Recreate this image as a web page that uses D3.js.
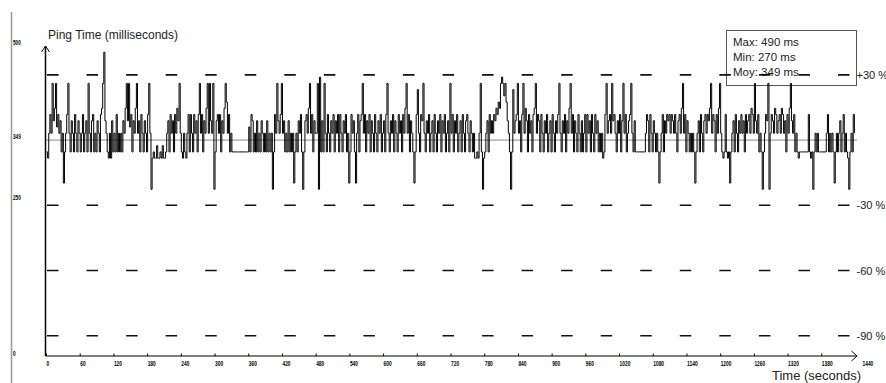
<!DOCTYPE html>
<html>
<head>
<meta charset="utf-8">
<script src="https://cdn.jsdelivr.net/npm/d3@7"></script>
<style>
  body { margin: 0; background: #fff; }
  svg { display: block; font-family: "Liberation Sans", Arial, sans-serif; }
</style>
</head>
<body>
<svg id="chart"></svg>
<script>
// ping samples, one value every 2 seconds, split in 4-minute pieces
const stepSeconds = 2;

const seg0 = [
  330,320,360,390,360,440,380,400,440,370, 390,360,380,330,360,280,330,360,390,440,
  360,330,380,360,330,390,360,330,380,360, 330,360,390,330,360,380,330,440,360,330,
  380,390,330,360,330,380,360,330,390,400, 440,490,380,360,330,320,360,320,380,330,
  360,330,390,330,360,330,360,330,380,360, 400,440,380,440,370,390,330,380,360,400,
  440,360,380,330,390,360,330,380,360,330, 390,440,360,270,320,330,320,320,340,320,
  320,330,320,340,320,320,330,360,380,330, 390,360,380,330,390,360,400,380,440,360
];
const seg1 = [
  330,320,360,330,320,360,390,330,390,360, 330,390,360,380,330,390,440,360,390,330,
  380,360,400,440,360,440,380,360,440,270, 330,380,390,360,390,330,380,360,400,440,
  410,360,390,330,360,330,330,330,330,330, 330,330,330,330,330,330,330,330,330,330,
  370,330,390,380,330,360,330,380,330,360, 330,380,360,330,360,330,380,330,360,330,
  360,270,330,390,360,440,380,360,390,440, 360,380,330,360,330,380,330,360,330,360,
  280,330,360,330,380,360,390,330,270,330, 380,390,360,400,440,360,390,330,380,360
];
const seg2 = [
  360,440,270,450,330,380,330,440,360,330, 390,360,330,380,360,390,330,380,360,390,
  330,390,360,330,380,360,390,330,360,280, 330,390,360,380,330,280,360,390,330,380,
  390,440,360,390,330,380,360,390,330,380, 360,330,390,360,330,380,360,390,330,360,
  380,330,390,440,360,330,380,360,390,330, 380,360,330,390,360,380,330,390,360,400,
  440,360,390,330,380,360,330,280,330,390, 430,360,330,390,380,440,360,330,380,360,
  390,330,360,380,330,390,360,330,380,360, 390,330,380,360,390,330,360,380,330,440
];
const seg3 = [
  360,390,330,380,360,390,330,360,380,330, 390,360,330,380,390,360,330,380,360,330,
  360,320,320,330,320,360,440,330,270,320, 330,360,380,330,390,360,380,360,390,380,
  400,390,410,400,440,450,440,420,440,410, 380,360,330,270,330,430,360,380,390,440,
  360,380,330,390,440,360,400,380,330,390, 360,380,330,390,400,440,360,390,380,330,
  390,360,330,380,360,390,330,360,380,330, 390,360,330,380,360,390,440,360,330,380,
  360,390,330,380,360,400,440,360,390,330, 380,360,330,390,360,330,380,330,360,390
];
const seg4 = [
  330,390,360,380,330,390,360,330,390,360, 380,330,360,330,360,320,330,390,440,360,
  380,390,360,440,380,390,360,330,380,360, 390,330,380,440,360,390,330,360,380,390,
  440,360,330,380,330,330,330,330,330,330, 330,330,330,360,390,380,330,390,360,330,
  380,360,330,360,330,280,330,360,390,330, 380,360,390,380,390,360,390,380,360,390,
  360,330,380,390,360,400,440,360,390,330, 380,360,330,360,330,360,330,280,330,360,
  380,330,390,360,330,380,390,360,390,380, 400,440,360,390,380,330,390,360,400,440
];
const seg5 = [
  360,330,320,330,390,330,320,330,280,330, 360,380,330,390,360,330,380,360,390,360,
  380,330,390,360,380,390,360,400,390,360, 440,380,360,390,330,360,330,270,330,360,
  390,380,440,270,360,390,380,360,400,390, 360,380,390,360,400,390,360,380,330,390,
  360,400,440,380,360,390,330,360,330,320, 330,330,330,330,330,330,330,330,390,330,
  320,330,270,330,360,330,360,330,330,330, 330,330,330,330,360,390,330,360,330,360,
  330,280,330,360,330,360,380,330,360,390, 330,360,330,320,270,330,360,330,390,360
];

const xTicks = [0, 60, 120, 180, 240, 300, 360, 420, 480, 540, 600, 660, 720, 780,
  840, 900, 960, 1020, 1080, 1140, 1200, 1260, 1320, 1380, 1440];
const yLabels = [0, 250, 349, 500];
const bandPercents = [30, -30, -60, -90];
const statNames = ['Max', 'Min', 'Moy'];
const statValues = [490, 270, 349];
const avgMs = 349;

const ping = [].concat(seg0, seg1, seg2, seg3, seg4, seg5);

const width = 886, height = 383;
const svg = d3.select('#chart').attr('width', width).attr('height', height);

const x = d3.scaleLinear().domain([0, 1440]).range([46.5, 855.5]);
const y = d3.scaleLinear().domain([0, 500]).range([357.5, 46]);

// grey frame line on the far left
svg.append('line')
  .attr('x1', 11.5).attr('x2', 11.5).attr('y1', 12).attr('y2', height)
  .attr('stroke', '#999').attr('stroke-width', 1.5);

// stats box (drawn first, lines go over it)
const box = svg.append('g');
box.append('rect')
  .attr('x', 726.5).attr('y', 30.5).attr('width', 130).attr('height', 55)
  .attr('fill', '#fff').attr('stroke', '#555');
box.selectAll('text')
  .data(statNames)
  .enter()
  .append('text')
  .attr('x', 733)
  .attr('y', (d, i) => 46 + i * 15)
  .style('font-size', '11.5px')
  .attr('fill', '#222')
  .text((d, i) => `${d}: ${statValues[i]} ms`);

// average line
svg.append('line')
  .attr('x1', x(0) - 1).attr('x2', x(1440) + 1.5)
  .attr('y1', y(avgMs)).attr('y2', y(avgMs))
  .attr('stroke', '#888').attr('stroke-width', 1);

// dashed percentage bands
svg.selectAll('.band')
  .data(bandPercents)
  .enter()
  .append('line')
  .attr('class', 'band')
  .attr('x1', x(0) + 0.5).attr('x2', x(1440) - 5)
  .attr('y1', d => y(avgMs * (1 + d / 100)))
  .attr('y2', d => y(avgMs * (1 + d / 100)))
  .attr('stroke', '#111').attr('stroke-width', 1.6)
  .attr('stroke-dasharray', '11.5,28.05');

svg.selectAll('.bandLabel')
  .data(bandPercents)
  .enter()
  .append('text')
  .attr('class', 'bandLabel')
  .attr('x', x(1440) + 1)
  .attr('y', d => y(avgMs * (1 + d / 100)) + 4)
  .style('font-size', '11px')
  .attr('fill', '#222')
  .text(d => (d > 0 ? '+' : '-') + Math.abs(d) + ' %');

// ping line, drawn as steps so each sample reads as a vertical stroke
const line = d3.line()
  .curve(d3.curveStepAfter)
  .x((d, i) => x(i * stepSeconds))
  .y(d => y(d));

svg.append('path')
  .datum(ping)
  .attr('d', line)
  .attr('fill', 'none')
  .attr('stroke', '#000')
  .attr('stroke-width', 1);

// axes
const axisG = svg.append('g').attr('stroke', '#000').attr('fill', 'none');
const x0 = x(0) - 1;
const yBase = 356;
axisG.append('line')
  .attr('x1', x0).attr('x2', x0).attr('y1', y(500)).attr('y2', yBase)
  .attr('stroke-width', 1.5);
axisG.append('path')
  .attr('d', `M${x0 - 4},${y(500) + 6}L${x0},${y(500)}L${x0 + 4},${y(500) + 6}`)
  .attr('stroke-width', 1);
axisG.append('line')
  .attr('x1', x0).attr('x2', x(1440) + 1.5).attr('y1', yBase).attr('y2', yBase)
  .attr('stroke-width', 1.2);
axisG.append('path')
  .attr('d', `M${x(1440) - 4},${yBase - 5}L${x(1440) + 1.5},${yBase}L${x(1440) - 4},${yBase + 5}`)
  .attr('stroke-width', 1);

axisG.selectAll('.tick')
  .data(xTicks.slice(0, -1))
  .enter()
  .append('line')
  .attr('class', 'tick')
  .attr('x1', d => x(d)).attr('x2', d => x(d))
  .attr('y1', yBase - 2.5).attr('y2', yBase);

svg.selectAll('.xLabel')
  .data(xTicks)
  .enter()
  .append('text')
  .attr('class', 'xLabel')
  .attr('x', (d, i) => x(d) + (i === xTicks.length - 1 ? 7 : 0))
  .attr('y', 366)
  .attr('textLength', d => String(d).length * 2.7)
  .attr('lengthAdjust', 'spacingAndGlyphs')
  .style('font-size', '8px')
  .style('font-weight', 'bold')
  .attr('fill', '#000')
  .text(d => d);

svg.selectAll('.yLabel')
  .data(yLabels)
  .enter()
  .append('text')
  .attr('class', 'yLabel')
  .attr('x', 13)
  .attr('y', d => y(d) - 1.5)
  .attr('textLength', d => String(d).length * 2.6)
  .attr('lengthAdjust', 'spacingAndGlyphs')
  .style('font-size', '8px')
  .style('font-weight', 'bold')
  .attr('fill', '#000')
  .text(d => d);

// titles
svg.append('text')
  .attr('x', 772).attr('y', 380)
  .style('font-size', '13px')
  .attr('fill', '#222')
  .text('Time (seconds)');

svg.append('text')
  .attr('x', 48).attr('y', 39)
  .style('font-size', '12px')
  .attr('fill', '#222')
  .text('Ping Time (milliseconds)');
</script>
</body>
</html>
